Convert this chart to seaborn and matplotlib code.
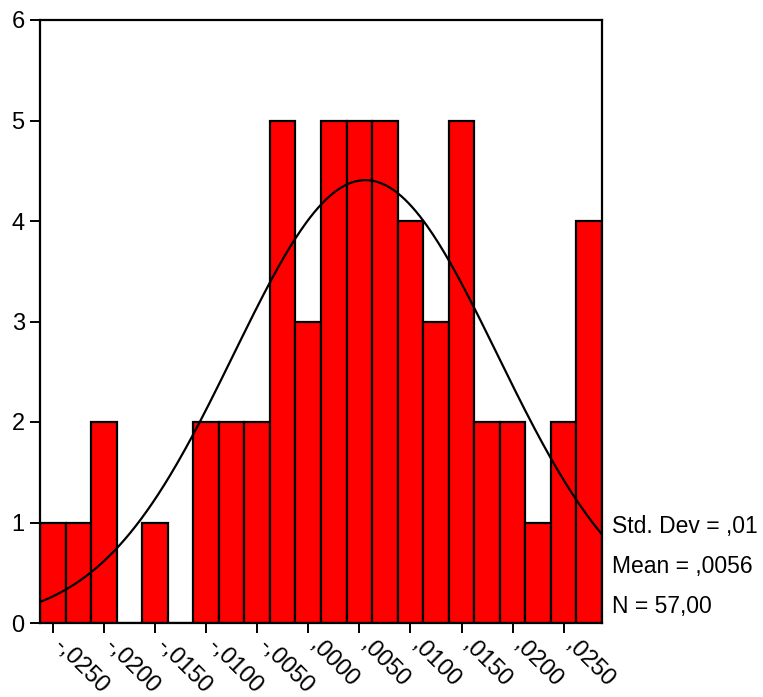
import numpy as np
import pandas as pd
import matplotlib
matplotlib.use("Agg")
import matplotlib.pyplot as plt
from matplotlib.transforms import ScaledTranslation
import seaborn as sns

# Data
bin_centers = [-0.0250, -0.0225, -0.0200, -0.0175, -0.0150, -0.0125, -0.0100, -0.0075,
               -0.0050, -0.0025, 0.0000, 0.0025, 0.0050, 0.0075, 0.0100, 0.0125,
               0.0150, 0.0175, 0.0200, 0.0225, 0.0250, 0.0275]
counts = [1, 1, 2, 0, 1, 0, 2, 2, 2, 5, 3, 5, 5, 5, 4, 3, 5, 2, 2, 1, 2, 4]
bin_width = 0.0025
tick_values = [-0.025, -0.020, -0.015, -0.010, -0.005, 0.000, 0.005, 0.010, 0.015, 0.020, 0.025]
tick_labels = ["-,0250", "-,0200", "-,0150", "-,0100", "-,0050", ",0000", ",0050",
               ",0100", ",0150", ",0200", ",0250"]
mean_val = 0.0056
sd_val = 0.0129
n_val = 57
stats_lines = ["Std. Dev = ,01", "Mean = ,0056", "N = 57,00"]

sns.set_theme(style="white")
plt.rcParams["font.family"] = ["Liberation Sans", "DejaVu Sans"]
plt.rcParams["text.color"] = "black"
plt.rcParams["xtick.color"] = "black"
plt.rcParams["ytick.color"] = "black"

W, H = 763, 697
fig = plt.figure(figsize=(W / 100, H / 100), dpi=100)
left, right, top, bottom = 40, 602, 20, 623
ax = fig.add_axes([left / W, 1 - bottom / H, (right - left) / W, (bottom - top) / H])

df = pd.DataFrame({"x": bin_centers, "w": counts})
edges = [c - bin_width / 2 for c in bin_centers] + [bin_centers[-1] + bin_width / 2]
sns.histplot(data=df, x="x", weights="w", bins=edges, ax=ax,
             color="#FF0000", alpha=1, edgecolor="black", linewidth=1.6)

# normal curve
xs = np.linspace(edges[0], edges[-1], 300)
ys = n_val * bin_width / (sd_val * np.sqrt(2 * np.pi)) * np.exp(-(xs - mean_val) ** 2 / (2 * sd_val ** 2))
sns.lineplot(x=xs, y=ys, ax=ax, color="black", linewidth=1.6)

ax.set_xlim(edges[0], edges[-1])
ax.set_ylim(0, 6)
ax.set_xlabel("")
ax.set_ylabel("")
ax.set_yticks(range(0, 7))
ax.set_yticklabels([str(i) for i in range(0, 7)], fontsize=17, color="black")
ax.set_xticks(tick_values)
ax.set_xticklabels(tick_labels, fontsize=17, rotation=-45, ha="left", va="center",
                   rotation_mode="anchor", color="black")
for s in ax.spines.values():
    s.set_color("black")
    s.set_linewidth(1.6)
ax.tick_params(axis="both", direction="out", length=7, width=1.4, color="black",
               bottom=True, left=True, pad=4)
ax.tick_params(axis="x", pad=7)
off = ScaledTranslation(0.05, 0, fig.dpi_scale_trans)
for lab in ax.get_xticklabels():
    lab.set_transform(lab.get_transform() + off)

for i, line in enumerate(stats_lines):
    fig.text(612 / W, 1 - (527 + i * 39.5) / H, line, fontsize=16.5, ha="left", va="center")

fig.savefig("out.png", dpi=100, facecolor="white")
